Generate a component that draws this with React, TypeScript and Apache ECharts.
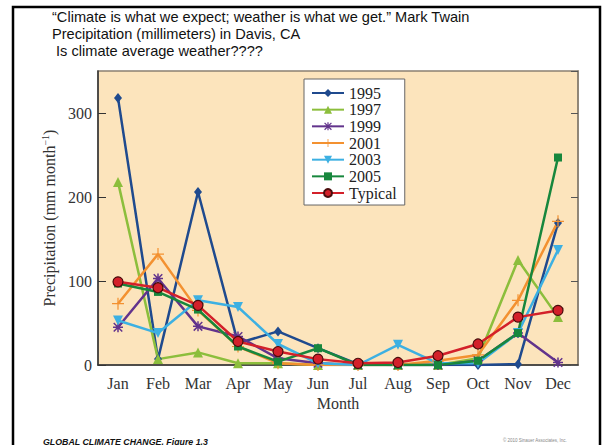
import React, { useEffect, useRef } from "react";
import * as echarts from "echarts";

const months = ["Jan", "Feb", "Mar", "Apr", "May", "Jun", "Jul", "Aug", "Sep", "Oct", "Nov", "Dec"];
const y1995 = [318, 7, 206, 26, 40, 20, 1, 0, 0, 0, 1, 169];
const y1997 = [218, 7, 15, 2, 2, 0, 0, 0, 0, 8, 125, 57];
const y1999 = [45, 103, 46, 34, 8, 2, 0, 0, 0, 5, 38, 3];
const y2001 = [73, 132, 65, 22, 2, 0, 0, 0, 5, 12, 77, 171];
const y2003 = [53, 38, 77, 69, 25, 2, 0, 24, 2, 2, 38, 137];
const y2005 = [97, 87, 66, 22, 4, 20, 0, 0, 0, 5, 38, 247];
const typical = [99, 92, 71, 28, 16, 7, 2, 3, 11, 25, 57, 65];
const yTicks = [0, 100, 200, 300];

const titleLines = [
  "\u201CClimate is what we expect; weather is what we get.\u201D Mark Twain",
  "Precipitation (millimeters) in Davis, CA",
  " Is climate average weather????",
];
const footer = "GLOBAL CLIMATE CHANGE, Figure 1.3";
const copyright = "\u00A9 2010 Sinauer Associates, Inc.";

const SERIF = "'Liberation Serif', 'Times New Roman', serif";
const SANS = "'Liberation Sans', Arial, sans-serif";

const ASTERISK =
  "path://M8.5,0H11.5V20H8.5Z M0,8.5H20V11.5H0Z M2.5,0.4L19.6,17.5L17.5,19.6L0.4,2.5Z M17.5,0.4L19.6,2.5L2.5,19.6L0.4,17.5Z";
const PLUS = "path://M9,0H11V20H9Z M0,9H20V11H0Z";

export default function App() {
  const ref = useRef<HTMLDivElement>(null);
  useEffect(() => {
    if (!ref.current) return;
    const chart = echarts.init(ref.current, null, { renderer: "svg" });
    const mk = (name: string, data: number[], color: string, symbol: string, size: any, extra: any = {}) => ({
      name,
      type: "line",
      data,
      symbol,
      symbolSize: size,
      lineStyle: { color, width: 2.5 },
      itemStyle: { color, ...(extra.itemStyle || {}) },
      symbolRotate: extra.symbolRotate || 0,
      z: extra.z || 2,
    });
    chart.setOption({
      animation: false,
      backgroundColor: "#ffffff",
      textStyle: { fontFamily: SERIF },
      grid: {
        left: 98,
        right: 24,
        top: 71,
        bottom: 80,
        show: true,
        backgroundColor: "#FCE4BC",
        borderColor: "#8a8072",
        borderWidth: 1.5,
      },
      legend: {
        orient: "vertical",
        left: 304,
        top: 79,
        backgroundColor: "#ffffff",
        borderColor: "#666666",
        borderWidth: 1,
        borderRadius: 0,
        padding: [6, 8, 4, 7],
        itemWidth: 32,
        itemHeight: 10,
        itemGap: 0.67,
        textStyle: { fontFamily: SERIF, fontSize: 16, color: "#222", lineHeight: 16 },
        data: ["1995", "1997", "1999", "2001", "2003", "2005", "Typical"],
      },
      xAxis: {
        type: "category",
        data: months,
        boundaryGap: true,
        name: "Month",
        nameLocation: "middle",
        nameGap: 29,
        nameTextStyle: { fontFamily: SERIF, fontSize: 16, color: "#333" },
        axisLine: { lineStyle: { color: "#333", width: 1.5 } },
        axisTick: { inside: true, length: 6, lineStyle: { color: "#333" } },
        axisLabel: { fontFamily: SERIF, fontSize: 16, color: "#333", margin: 10 },
        splitLine: { show: false },
      },
      yAxis: [
        {
          type: "value",
          min: 0,
          max: 350,
          interval: 100,
          name: "Precipitation (mm month{sup|\u22121})",
          nameLocation: "middle",
          nameGap: 38,
          nameRotate: 90,
          nameTextStyle: {
            fontFamily: SERIF,
            fontSize: 16,
            color: "#333",
            rich: { sup: { fontFamily: SERIF, fontSize: 10, color: "#333", padding: [0, 0, 8, 0] } },
          },
          axisLine: { show: true, lineStyle: { color: "#333", width: 1.5 } },
          axisTick: { show: true, inside: true, length: 8, lineStyle: { color: "#333" } },
          axisLabel: {
            fontFamily: SERIF,
            fontSize: 16,
            color: "#333",
            margin: 6,
            showMaxLabel: false,
            formatter: (v: number) => (yTicks.indexOf(v) >= 0 ? String(v) : ""),
          },
          splitLine: { show: false },
        },
        {
          type: "value",
          position: "right",
          min: 0,
          max: 350,
          interval: 100,
          axisLine: { show: true, lineStyle: { color: "#8a8072", width: 1.5 } },
          axisTick: { show: true, inside: true, length: 7, lineStyle: { color: "#555" } },
          axisLabel: { show: false },
          splitLine: { show: false },
        },
      ],
      series: [
        mk("1995", y1995, "#1F4A8E", "diamond", [8, 10]),
        mk("1997", y1997, "#8CBE3C", "triangle", 10),
        mk("1999", y1999, "#62338C", ASTERISK, 10),
        mk("2001", y2001, "#F39130", PLUS, 12),
        mk("2003", y2003, "#3DB0E2", "triangle", 10, { symbolRotate: 180 }),
        mk("2005", y2005, "#17873D", "rect", 8),
        mk("Typical", typical, "#D3202A", "circle", 10, {
          itemStyle: { borderColor: "#4a0d0d", borderWidth: 1.2 },
          z: 3,
        }),
      ],
      graphic: [
        {
          type: "rect",
          shape: { x: 13, y: 7, width: 587, height: 470 },
          style: { fill: "none", stroke: "#000", lineWidth: 2.5 },
          silent: true,
          z: 100,
        },
        ...titleLines.map((t, i) => ({
          type: "text",
          x: 52,
          y: 17 + i * 17,
          style: {
            text: t,
            fontFamily: SANS,
            fontSize: 14.6,
            fill: "#111",
            verticalAlign: "middle",
            textAlign: "left",
          },
        })),
        {
          type: "text",
          x: 43,
          y: 441.5,
          style: {
            text: footer,
            fontFamily: SANS,
            fontSize: 8.8,
            fontWeight: "bold",
            fontStyle: "italic",
            fill: "#111",
            verticalAlign: "middle",
          },
        },
        {
          type: "text",
          x: 503,
          y: 440,
          style: {
            text: copyright,
            fontFamily: SANS,
            fontSize: 4.5,
            fill: "#888",
            verticalAlign: "middle",
          },
        },
      ],
    });
    return () => chart.dispose();
  }, []);
  return (
    <div
      ref={ref}
      style={{ position: "fixed", left: 0, top: 0, width: 602, height: 445, background: "#fff" }}
    />
  );
}
